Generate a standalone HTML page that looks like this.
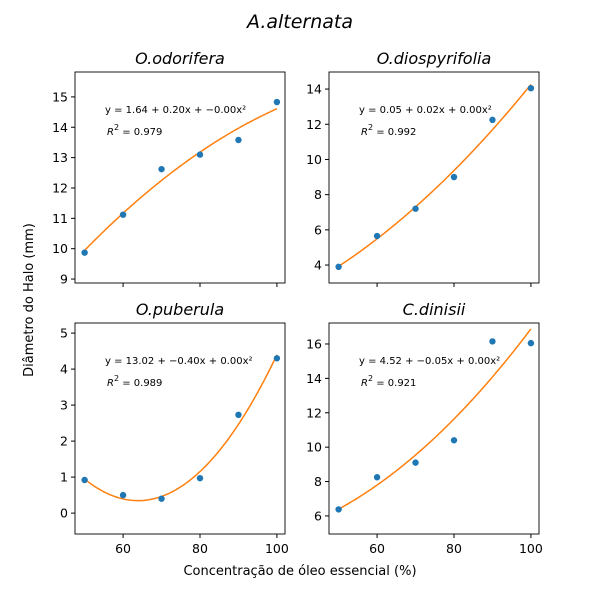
<!DOCTYPE html>
<html><head><meta charset="utf-8"><style>
body{margin:0;background:#fff}
svg text{font-family:"DejaVu Sans","Liberation Sans",sans-serif}
</style></head><body>
<svg id="c" width="600" height="600" xmlns="http://www.w3.org/2000/svg">
<rect width="600" height="600" fill="#fff"/>
<text x="300" y="28" font-size="19" text-anchor="middle" font-style="italic">A.alternata</text>
<text x="300" y="575" font-size="13" text-anchor="middle">Concentração de óleo essencial (%)</text>
<text transform="translate(33,300) rotate(-90)" font-size="13" text-anchor="middle">Diâmetro do Halo (mm)</text>
</svg>
<script>
const xVals=[50,60,70,80,90,100];
const yOdorifera=[9.87,11.12,12.62,13.1,13.58,14.83];
const yDiospyrifolia=[3.9,5.65,7.2,9.0,12.25,14.05];
const yPuberula=[0.92,0.5,0.4,0.97,2.73,4.3];
const yDinisii=[6.38,8.25,9.1,10.4,16.15,16.05];
const titles=["O.odorifera","O.diospyrifolia","O.puberula","C.dinisii"];
const eqs=["y = 1.64 + 0.20x + \u22120.00x²","y = 0.05 + 0.02x + 0.00x²","y = 13.02 + \u22120.40x + 0.00x²","y = 4.52 + \u22120.05x + 0.00x²"];
const r2s=["0.979","0.992","0.989","0.921"];
const yTicks=[[9,10,11,12,13,14,15],[4,6,8,10,12,14],[0,1,2,3,4,5],[6,8,10,12,14,16]];
const xTicks=[60,80,100];
const yLims=[[8.87,15.82],[2.98,14.97],[-0.58,5.28],[4.95,17.22]];
const series=[yOdorifera,yDiospyrifolia,yPuberula,yDinisii];
const panels=[[75,72],[329,72],[75,323],[329,323]];
const W=210,H=211,NS="http://www.w3.org/2000/svg";
const svg=document.getElementById('c');
function mk(t,a,p){const e=document.createElementNS(NS,t);for(const k in a)e.setAttribute(k,a[k]);(p||svg).appendChild(e);return e;}
function fit(xs,ys){let S=[0,0,0,0,0],T=[0,0,0];for(let i=0;i<xs.length;i++){const x=xs[i];for(let k=0;k<5;k++)S[k]+=Math.pow(x,k);for(let k=0;k<3;k++)T[k]+=ys[i]*Math.pow(x,k);}
 const A=[[S[0],S[1],S[2],T[0]],[S[1],S[2],S[3],T[1]],[S[2],S[3],S[4],T[2]]];
 for(let i=0;i<3;i++){for(let j=i+1;j<3;j++){const f=A[j][i]/A[i][i];for(let k=i;k<4;k++)A[j][k]-=f*A[i][k];}}
 const c=[0,0,0];for(let i=2;i>=0;i--){let s=A[i][3];for(let k=i+1;k<3;k++)s-=A[i][k]*c[k];c[i]=s/A[i][i];}return c;}
for(let p=0;p<4;p++){
 const [L,T]=panels[p],[y0,y1]=yLims[p];
 const sx=v=>L+(v-47.5)/(102.1-47.5)*W, sy=v=>T+H-(v-y0)/(y1-y0)*H;
 const g=mk('g',{});
 
 
 const t=mk('text',{x:L+W/2,y:T-8,'font-size':16,'text-anchor':'middle','font-style':'italic'},g);t.textContent=titles[p];
 
 
 const c=fit(xVals,series[p]);let d='';
 for(let i=0;i<=100;i++){const x=50+i*0.5;const y=c[0]+c[1]*x+c[2]*x*x;d+=(i?'L':'M')+sx(x).toFixed(2)+','+sy(y).toFixed(2);}
 const ln=mk('path',{d:d,fill:'none',stroke:'#ff7f0e','stroke-width':1.5},g);
 
 
 xVals.forEach((x,i)=>{const pt=mk('circle',{cx:sx(x),cy:sy(series[p][i]),r:3.2,fill:'#1f77b4'},g);
  
  });
 mk('rect',{x:L,y:T,width:W,height:H,fill:'none',stroke:'#000','stroke-width':0.9},g);
 yTicks[p].forEach(v=>{const y=sy(v);mk('line',{x1:L-4,x2:L,y1:y,y2:y,stroke:'#000'},g);
  const tx=mk('text',{x:L-7,y:y+4.5,'font-size':12.5,'text-anchor':'end'},g);tx.textContent=v;
  
  });
 xTicks.forEach(v=>{const x=sx(v);mk('line',{x1:x,x2:x,y1:T+H,y2:T+H+4,stroke:'#000'},g);
  if(p>=2){const tx=mk('text',{x:x,y:T+H+19,'font-size':12.5,'text-anchor':'middle'},g);tx.textContent=v;
  
  }});
 const e=mk('text',{x:L+30,y:T+41,'font-size':10},g);e.textContent=eqs[p];
 
 
 const r=mk('text',{x:L+32,y:T+63,'font-size':10},g);r.innerHTML='<tspan font-style="italic">R</tspan><tspan dy="-5" font-size="8">2</tspan><tspan dy="5"> = '+r2s[p]+'</tspan>';
 
 
}
</script>
</body></html>
